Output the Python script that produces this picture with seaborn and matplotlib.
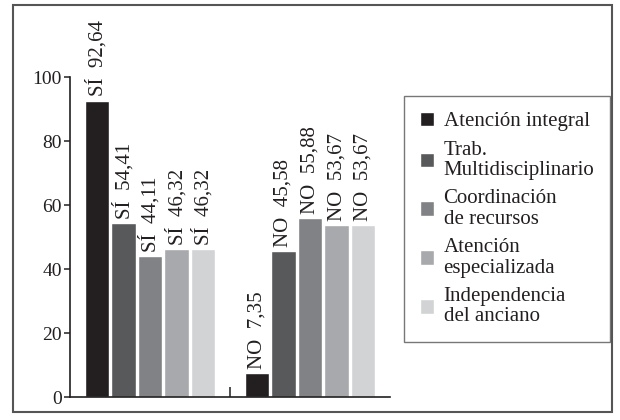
import matplotlib
import matplotlib.pyplot as plt
import pandas as pd
import seaborn as sns
from matplotlib.patches import Rectangle

matplotlib.use('Agg')

# Datos
respuestas = ["SÍ", "NO"]
categorias = [
    "Atención integral",
    "Trab. Multidisciplinario",
    "Coordinación de recursos",
    "Atención especializada",
    "Independencia del anciano",
]
etiquetas_leyenda = [
    "Atención integral",
    "Trab.\nMultidisciplinario",
    "Coordinación\nde recursos",
    "Atención\nespecializada",
    "Independencia\ndel anciano",
]
valores_si = [92.64, 54.41, 44.11, 46.32, 46.32]
valores_no = [7.35, 45.58, 55.88, 53.67, 53.67]
colores = ["#231f20", "#58595b", "#808285", "#a7a9ac", "#d1d3d4"]
yticks = [0, 20, 40, 60, 80, 100]

df = pd.DataFrame({
    "respuesta": [r for r in respuestas for _ in categorias],
    "categoria": categorias * 2,
    "valor": valores_si + valores_no,
})

sns.set_style("ticks")
plt.rcParams['font.family'] = ['Liberation Serif', 'DejaVu Serif']

fig = plt.figure(figsize=(6.2, 4.2), dpi=100)
ax = fig.add_axes([70 / 620, 23 / 420, 320 / 620, 320 / 420])

sns.barplot(
    data=df, x="respuesta", y="valor", hue="categoria",
    order=respuestas, hue_order=categorias, palette=colores,
    width=0.83, gap=0.08, saturation=1, ax=ax, legend=True,
)

# Etiquetas de barras
for cont, cat in zip(ax.containers, categorias):
    vals = df[df["categoria"] == cat]["valor"].tolist()
    labs = [f"{r}  {v:.2f}".replace(".", ",") for r, v in zip(respuestas, vals)]
    ax.bar_label(cont, labels=labs, rotation=90, padding=3,
                 fontsize=15, color="#231f20", clip_on=False)

ax.set_xlim(-0.5, 1.5)
ax.set_ylim(0, 100)
ax.set_yticks(yticks)
ax.set_yticklabels([str(t) for t in yticks], fontsize=14)
ax.set_xticks([0.5])
ax.set_xticklabels([])
ax.tick_params(axis='x', direction='in', length=7, width=1.1, color="#231f20")
ax.tick_params(axis='y', direction='out', length=4, width=1.1, pad=2,
               color="#231f20", labelcolor="#231f20")
ax.set_xlabel("")
ax.set_ylabel("")
sns.despine(ax=ax)
for s in ["left", "bottom"]:
    ax.spines[s].set_linewidth(1.2)
    ax.spines[s].set_color("#231f20")

# Leyenda
handles, _ = ax.get_legend_handles_labels()
leg = ax.legend(
    handles, etiquetas_leyenda, loc="upper left",
    bbox_to_anchor=(404 / 620, 1 - 96 / 420), bbox_transform=fig.transFigure,
    borderaxespad=0, fontsize=15, frameon=True, fancybox=False,
    handlelength=0.7, handleheight=0.7, handletextpad=0.45,
    labelspacing=0.45, borderpad=0.75,
)
leg.get_frame().set_edgecolor("#555555")
leg.get_frame().set_linewidth(1.0)
for t in leg.get_texts():
    t.set_color("#231f20")
    t.set_linespacing(1.1)

# Marco de la figura
fig.patches.append(Rectangle((13 / 620, 8 / 420), 599 / 620, 407 / 420,
                             transform=fig.transFigure, fill=False,
                             edgecolor="#555555", linewidth=1.5))

fig.savefig("out.png", dpi=100)
plt.close(fig)
